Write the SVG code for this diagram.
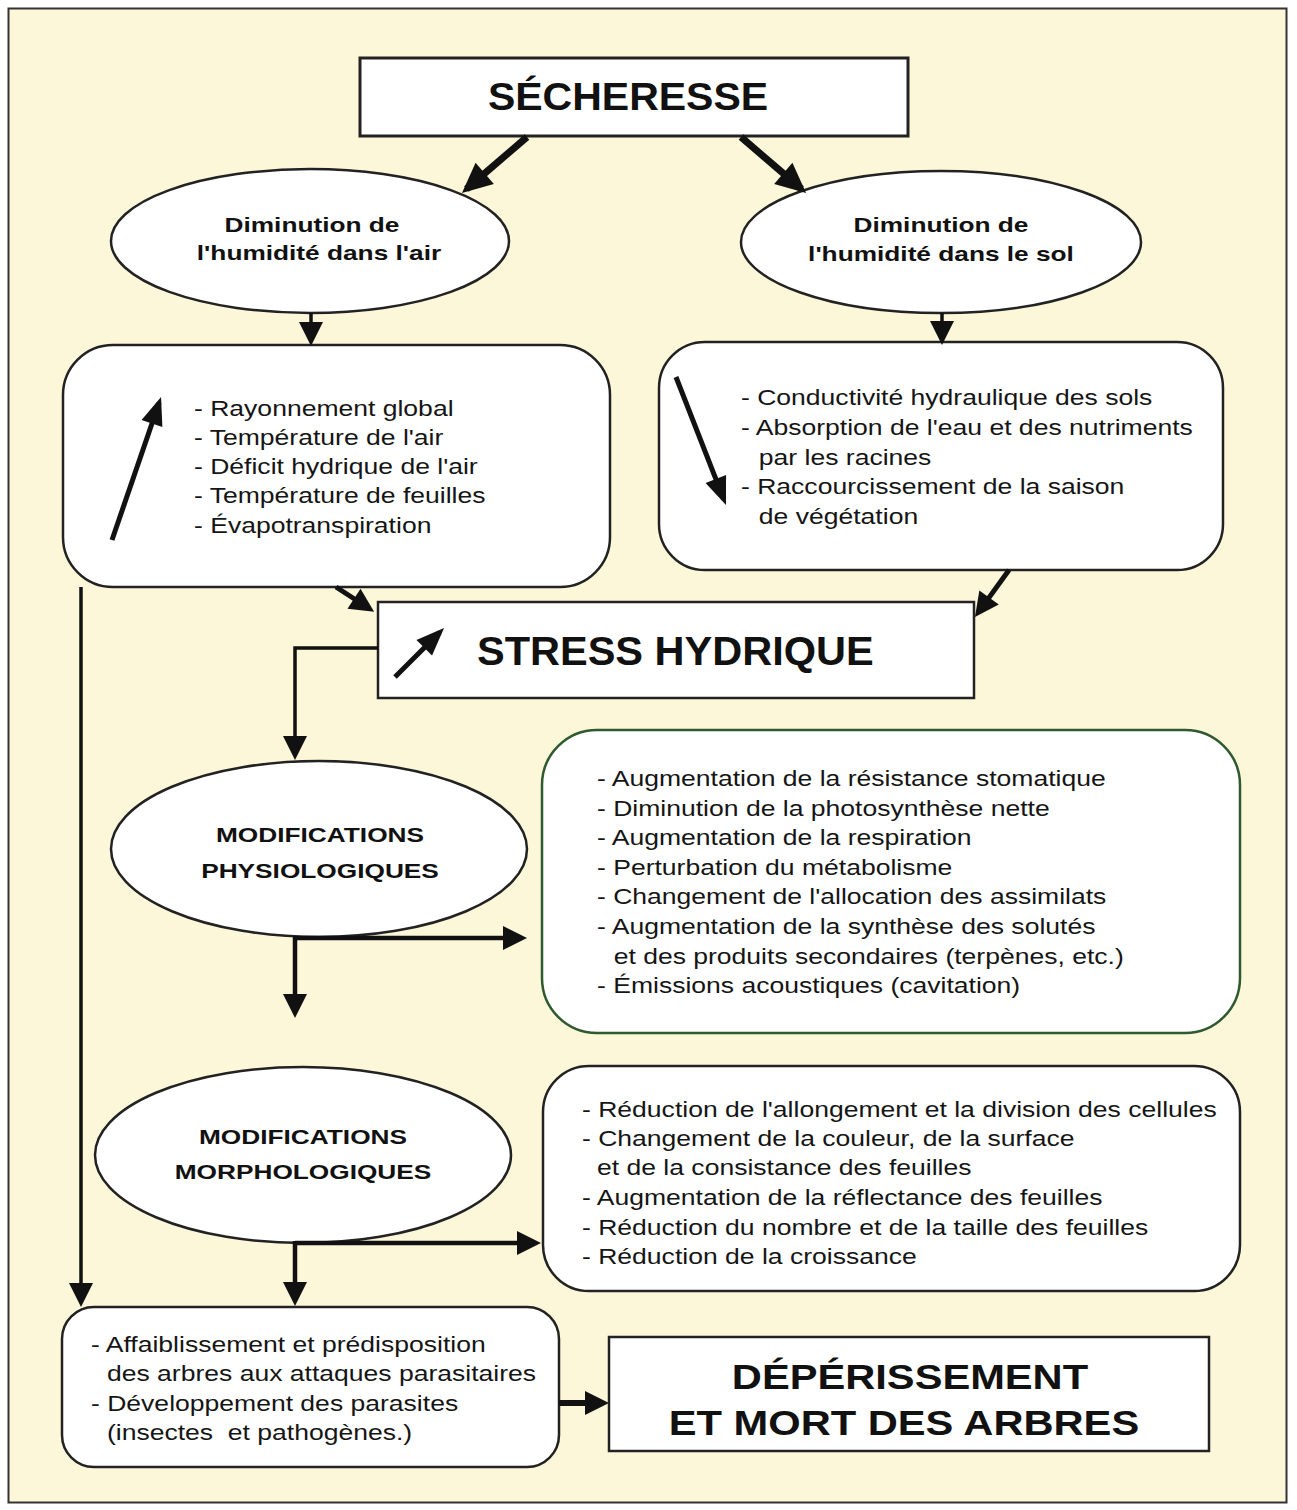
<svg xmlns="http://www.w3.org/2000/svg" width="1297" height="1510" viewBox="0 0 1297 1510">
<style>
.box{fill:#ffffff;stroke:#222222;stroke-width:2.5}
.green{fill:#ffffff;stroke:#2f5a2f;stroke-width:2.5}
.t{font-family:"Liberation Sans",Arial,sans-serif;font-size:22.3px;fill:#151515}
.b{font-family:"Liberation Sans",Arial,sans-serif;font-size:21px;font-weight:bold;fill:#111111;text-anchor:middle}
.title{font-family:"Liberation Sans",Arial,sans-serif;font-weight:bold;fill:#111111}
.c{fill:none;stroke:#111111;stroke-linejoin:miter}
</style>
<defs>
<marker id="ah" markerUnits="userSpaceOnUse" markerWidth="24" markerHeight="24" refX="18" refY="12" orient="auto" overflow="visible"><path d="M0,0 L24,12 L0,24 z" fill="#111111"/></marker>
<marker id="ahBig" markerUnits="userSpaceOnUse" markerWidth="30" markerHeight="28" refX="24" refY="14" orient="auto" overflow="visible"><path d="M0,0 L30,14 L0,28 z" fill="#111111"/></marker>
<marker id="ahIn" markerUnits="userSpaceOnUse" markerWidth="28" markerHeight="22" refX="22" refY="11" orient="auto" overflow="visible"><path d="M0,0 L28,11 L0,22 z" fill="#111111"/></marker>
</defs>
<rect x="0" y="0" width="1297" height="1510" fill="#ffffff"/>
<rect x="8.5" y="8.5" width="1278" height="1494" fill="#fdf7da" stroke="#333333" stroke-width="2"/>

<g id="secheresse">
<rect class="box" x="360" y="58" width="548" height="78" style="stroke-width:3"/>
<text class="title" font-size="38.5" text-anchor="middle" transform="translate(628,110) scale(1.065,1)">SÉCHERESSE</text>
</g>

<g id="humidite-air">
<ellipse class="box" cx="310" cy="241" rx="199" ry="72"/>
<text class="b" transform="translate(312,232) scale(1.25,1)">Diminution de</text>
<text class="b" transform="translate(319,260) scale(1.25,1)">l'humidité dans l'air</text>
</g>

<g id="humidite-sol">
<ellipse class="box" cx="941" cy="242" rx="200" ry="71"/>
<text class="b" transform="translate(941,232) scale(1.25,1)">Diminution de</text>
<text class="b" transform="translate(941,261) scale(1.25,1)">l'humidité dans le sol</text>
</g>

<g id="facteurs-air">
<rect class="box" x="63" y="345" width="547" height="242" rx="50" ry="50"/>
<g transform="translate(194 0) scale(1.19 1)">
<text class="t" x="0" y="416">- Rayonnement global</text>
<text class="t" x="0" y="445">- Température de l'air</text>
<text class="t" x="0" y="474">- Déficit hydrique de l'air</text>
<text class="t" x="0" y="503.5">- Température de feuilles</text>
<text class="t" x="0" y="533">- Évapotranspiration</text>
</g>
</g>

<g id="facteurs-sol">
<rect class="box" x="659" y="342" width="564" height="228" rx="46" ry="46"/>
<g transform="translate(741 0) scale(1.19 1)">
<text class="t" x="0" y="405">- Conductivité hydraulique des sols</text>
<text class="t" x="0" y="435">- Absorption de l'eau et des nutriments</text>
<text class="t" x="15" y="465">par les racines</text>
<text class="t" x="0" y="494">- Raccourcissement de la saison</text>
<text class="t" x="15" y="524">de végétation</text>
</g>
</g>

<g id="stress">
<rect class="box" x="378" y="602" width="596" height="96"/>
<text class="title" font-size="41.5" x="477" y="665">STRESS HYDRIQUE</text>
</g>

<g id="modif-physio">
<ellipse class="box" cx="319" cy="849" rx="208" ry="88"/>
<text class="b" transform="translate(320,842) scale(1.25,1)">MODIFICATIONS</text>
<text class="b" transform="translate(320,878) scale(1.25,1)">PHYSIOLOGIQUES</text>
</g>

<g id="effets-physio">
<rect class="green" x="542" y="730" width="698" height="303" rx="55" ry="55"/>
<g transform="translate(597 0) scale(1.19 1)">
<text class="t" x="0" y="786">- Augmentation de la résistance stomatique</text>
<text class="t" x="0" y="815.6">- Diminution de la photosynthèse nette</text>
<text class="t" x="0" y="845.2">- Augmentation de la respiration</text>
<text class="t" x="0" y="874.8">- Perturbation du métabolisme</text>
<text class="t" x="0" y="904.4">- Changement de l'allocation des assimilats</text>
<text class="t" x="0" y="934">- Augmentation de la synthèse des solutés</text>
<text class="t" x="14" y="963.6">et des produits secondaires (terpènes, etc.)</text>
<text class="t" x="0" y="993.2">- Émissions acoustiques (cavitation)</text>
</g>
</g>

<g id="modif-morpho">
<ellipse class="box" cx="303" cy="1155" rx="208" ry="88"/>
<text class="b" transform="translate(303,1144) scale(1.25,1)">MODIFICATIONS</text>
<text class="b" transform="translate(303,1179) scale(1.25,1)">MORPHOLOGIQUES</text>
</g>

<g id="effets-morpho">
<rect class="box" x="543" y="1066" width="697" height="225" rx="46" ry="46"/>
<g transform="translate(582 0) scale(1.19 1)">
<text class="t" x="0" y="1117">- Réduction de l'allongement et la division des cellules</text>
<text class="t" x="0" y="1146">- Changement de la couleur, de la surface</text>
<text class="t" x="12.6" y="1175.5">et de la consistance des feuilles</text>
<text class="t" x="0" y="1205">- Augmentation de la réflectance des feuilles</text>
<text class="t" x="0" y="1235">- Réduction du nombre et de la taille des feuilles</text>
<text class="t" x="0" y="1264.5">- Réduction de la croissance</text>
</g>
</g>

<g id="parasites">
<rect class="box" x="62" y="1307" width="497" height="160" rx="32" ry="32"/>
<g transform="translate(91 0) scale(1.19 1)">
<text class="t" x="0" y="1352">- Affaiblissement et prédisposition</text>
<text class="t" x="13.4" y="1381.5">des arbres aux attaques parasitaires</text>
<text class="t" x="0" y="1411">- Développement des parasites</text>
<text class="t" x="13.4" y="1440.5">(insectes&#160; et pathogènes.)</text>
</g>
</g>

<g id="deperissement">
<rect class="box" x="609" y="1337" width="600" height="114"/>
<text class="title" font-size="35" text-anchor="middle" transform="translate(910,1389) scale(1.19,1)">DÉPÉRISSEMENT</text>
<text class="title" font-size="35" text-anchor="middle" transform="translate(904,1435) scale(1.19,1)">ET MORT DES ARBRES</text>
</g>

<g id="connectors">
<line class="c" x1="527" y1="137" x2="466.5" y2="189" stroke-width="7" marker-end="url(#ahBig)"/>
<line class="c" x1="741" y1="137" x2="801.5" y2="189" stroke-width="7" marker-end="url(#ahBig)"/>
<line class="c" x1="311" y1="313" x2="311" y2="340" stroke-width="3.5" marker-end="url(#ah)"/>
<line class="c" x1="942" y1="313" x2="942" y2="339" stroke-width="3.5" marker-end="url(#ah)"/>
<line class="c" x1="336" y1="587" x2="369.1" y2="608.5" stroke-width="5" marker-end="url(#ah)"/>
<line class="c" x1="1009" y1="570" x2="978.5" y2="612.1" stroke-width="5" marker-end="url(#ah)"/>
<polyline class="c" points="378,648 295,648 295,754" stroke-width="3.5" marker-end="url(#ah)"/>
<line class="c" x1="81" y1="587" x2="81" y2="1301" stroke-width="3.5" marker-end="url(#ah)"/>
<line class="c" x1="295" y1="938" x2="521" y2="938" stroke-width="4.5" marker-end="url(#ah)"/>
<line class="c" x1="295" y1="936" x2="295" y2="1012" stroke-width="4.5" marker-end="url(#ah)"/>
<line class="c" x1="295" y1="1243" x2="535" y2="1243" stroke-width="4.5" marker-end="url(#ah)"/>
<line class="c" x1="295" y1="1241" x2="295" y2="1300" stroke-width="4.5" marker-end="url(#ah)"/>
<line class="c" x1="559" y1="1403" x2="603" y2="1403" stroke-width="6" marker-end="url(#ah)"/>
<line class="c" x1="112" y1="540" x2="159.1" y2="402.7" stroke-width="5" marker-end="url(#ahIn)"/>
<line class="c" x1="676" y1="377" x2="723.8" y2="499.4" stroke-width="5" marker-end="url(#ahIn)"/>
<line class="c" x1="395" y1="677" x2="439.8" y2="632.2" stroke-width="5" marker-end="url(#ahIn)"/>
</g>
</svg>
